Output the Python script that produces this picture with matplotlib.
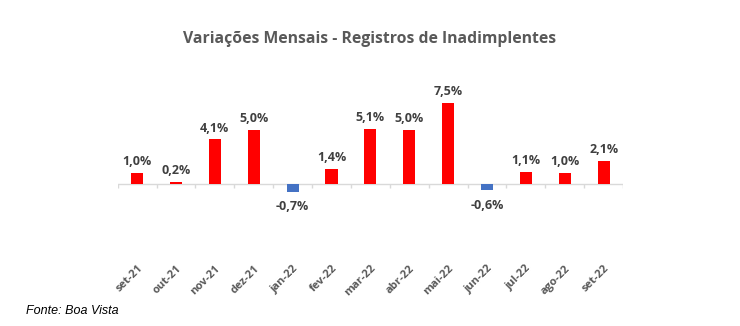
import numpy as np
import matplotlib
matplotlib.use("Agg")
from matplotlib import pyplot as plt

# variacoes mensais - registros de inadimplentes

meses = ['set-21', 'out-21', 'nov-21', 'dez-21', 'jan-22', 'fev-22', 'mar-22',
         'abr-22', 'mai-22', 'jun-22', 'jul-22', 'ago-22', 'set-22']
variacao = [1.0, 0.2, 4.1, 5.0, -0.7, 1.4, 5.1, 5.0, 7.5, -0.6, 1.1, 1.0, 2.1]

fig = plt.figure(figsize=(7.4, 3.26), dpi=100)
ax = fig.add_axes([0.159, 0.236, 0.683, 0.466])

x = np.arange(len(meses))
cores = ['#FF0000' if v >= 0 else '#4472C4' for v in variacao]
ax.bar(x, variacao, width=0.31, color=cores, zorder=2)

# linha do zero e marcas entre categorias
ax.axhline(0, color='#D9D9D9', lw=1, zorder=1)
ax.vlines(np.arange(len(meses) + 1) - 0.5, -0.35, 0, color='#D9D9D9', lw=1)

for xi, v in zip(x, variacao):
    txt = ('%.1f%%' % v).replace('.', ',')
    if v >= 0:
        ax.text(xi, v + 0.45, txt, ha='center', va='bottom', fontsize=9,
                fontweight='bold', color='#404040', family='Open Sans')
    else:
        ax.text(xi, v - 0.75, txt, ha='center', va='top', fontsize=9,
                fontweight='bold', color='#404040', family='Open Sans')

ax.set_xlim(-0.5, len(meses) - 0.5)
ax.set_ylim(-6, 8)
ax.set_xticks(x)
ax.set_xticklabels(meses, rotation=45, ha='right', rotation_mode='anchor',
                   fontsize=8, fontweight='bold', color='#595959', family='Open Sans')
ax.tick_params(axis='x', length=0, pad=10)
ax.set_yticks([])
for s in ax.spines.values():
    s.set_visible(False)

fig.text(0.5, 0.88, 'Variações Mensais - Registros de Inadimplentes', ha='center',
         va='center', fontsize=11.3, fontweight='bold', color='#595959', family='Open Sans')
fig.text(0.035, 0.045, 'Fonte: Boa Vista', ha='left', va='center', fontsize=9,
         style='italic', color='black', family='Liberation Sans')

fig.savefig('out.png', dpi=100)
